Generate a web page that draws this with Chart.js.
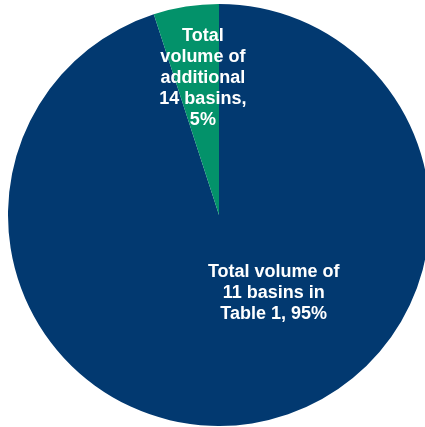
<!DOCTYPE html>
<html>
<head>
<meta charset="utf-8">
<script src="https://cdn.jsdelivr.net/npm/chart.js@4"></script>
<style>
  html, body { margin: 0; padding: 0; background: #fff; overflow: hidden; width: 425px; height: 427px; }
  #wrap { position: absolute; left: 8px; top: 4px; width: 422px; height: 422px; }
</style>
</head>
<body>
<div id="wrap"><canvas id="pieChart"></canvas></div>
<script>
// volume share of basins
const LABELS = [
  ['Total volume of', '11 basins in', 'Table 1, 95%'],
  ['Total', 'volume of', 'additional', '14 basins,', '5%']
];
const VALUES = [95, 5];
const COLORS = ['#023970', '#03926a'];

// where each label sits: angle (deg, 0 = right, clockwise) and fraction of radius
const LABEL_POS = [
  { angle: 54.8, dist: 0.45 },
  { angle: -96.7, dist: 0.655 }
];

const sliceLabels = {
  id: 'sliceLabels',
  afterDatasetsDraw(chart) {
    const ctx = chart.ctx;
    const meta = chart.getDatasetMeta(0);
    ctx.save();
    ctx.fillStyle = '#ffffff';
    ctx.font = 'bold 18px "Liberation Sans", Arial, sans-serif';
    ctx.textAlign = 'center';
    ctx.textBaseline = 'middle';
    const lh = 21;
    meta.data.forEach((arc, i) => {
      const p = LABEL_POS[i];
      const a = p.angle * Math.PI / 180;
      const cx = arc.x + Math.cos(a) * arc.outerRadius * p.dist;
      const cy = arc.y + Math.sin(a) * arc.outerRadius * p.dist;
      const lines = LABELS[i];
      const y0 = cy - (lines.length - 1) * lh / 2;
      lines.forEach((t, j) => ctx.fillText(t, cx, y0 + j * lh));
    });
    ctx.restore();
  }
};

new Chart(document.getElementById('pieChart').getContext('2d'), {
  type: 'pie',
  data: {
    labels: LABELS.map(l => l.join(' ')),
    datasets: [{
      data: VALUES,
      backgroundColor: COLORS,
      borderWidth: 0,
      hoverOffset: 0
    }]
  },
  options: {
    responsive: true,
    maintainAspectRatio: false,
    animation: false,
    layout: { padding: 0 },
    plugins: {
      legend: { display: false },
      tooltip: { enabled: false }
    }
  },
  plugins: [sliceLabels]
});
</script>
</body>
</html>
